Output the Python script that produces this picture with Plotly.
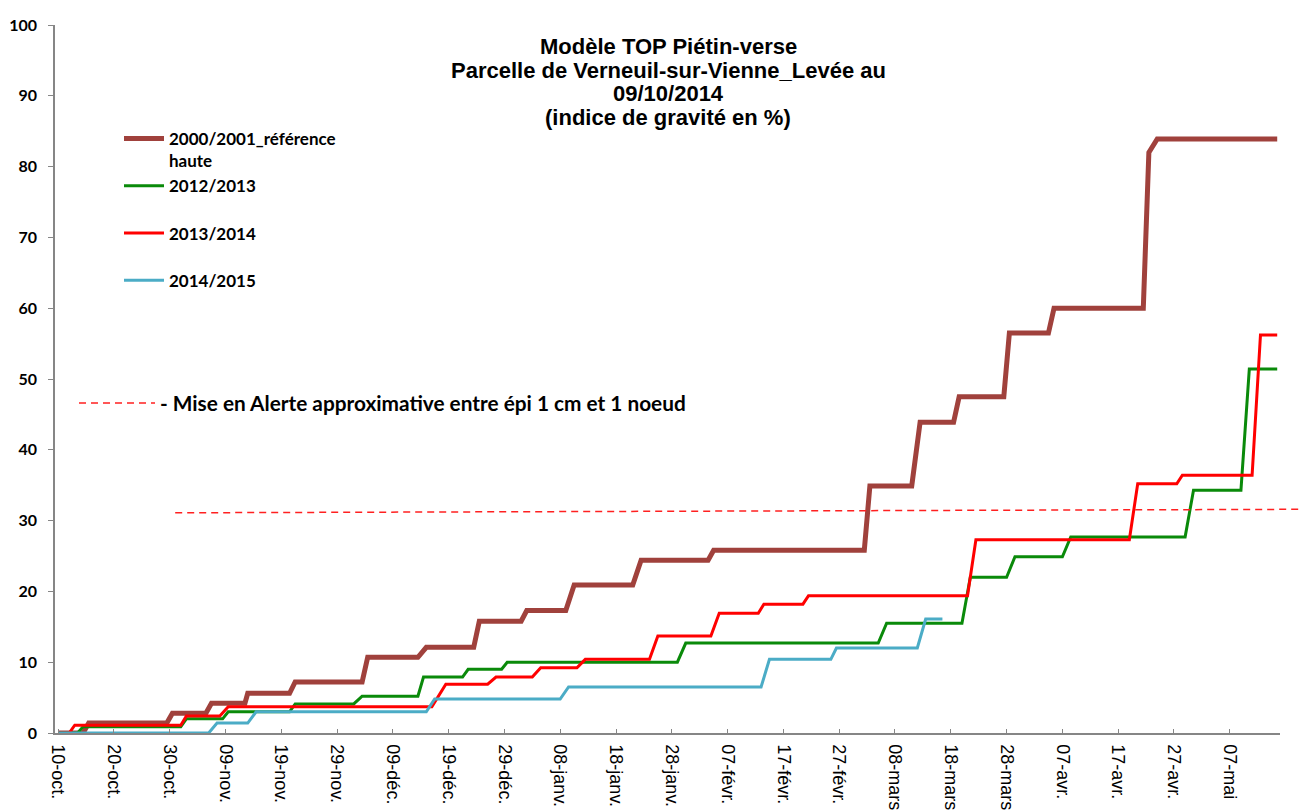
import plotly.graph_objects as go
import pandas as pd

# ---------------- data ----------------
# x axis uses a leap-year season (Feb has 29 days, so 27-févr. + 10 days = 08-mars)
tick_dates = ['2011-10-10', '2011-10-20', '2011-10-30', '2011-11-09', '2011-11-19',
              '2011-11-29', '2011-12-09', '2011-12-19', '2011-12-29', '2012-01-08',
              '2012-01-18', '2012-01-28', '2012-02-07', '2012-02-17', '2012-02-27',
              '2012-03-08', '2012-03-18', '2012-03-28', '2012-04-07', '2012-04-17',
              '2012-04-27', '2012-05-07']
tick_labels = ['10-oct.', '20-oct.', '30-oct.', '09-nov.', '19-nov.', '29-nov.',
               '09-déc.', '19-déc.', '29-déc.', '08-janv.', '18-janv.', '28-janv.',
               '07-févr.', '17-févr.', '27-févr.', '08-mars', '18-mars', '28-mars',
               '07-avr.', '17-avr.', '27-avr.', '07-mai']

ref_name = '2000/2001_référence<br>haute'
ref_dates = ['2011-10-10', '2011-10-14 12:00', '2011-10-15 12:00', '2011-10-29 12:00',
             '2011-10-30 12:00', '2011-11-05 12:00', '2011-11-06 12:00', '2011-11-12 12:00',
             '2011-11-13', '2011-11-20 12:00', '2011-11-21 12:00', '2011-12-03 12:00',
             '2011-12-04 12:00', '2011-12-13 12:00', '2011-12-15', '2011-12-23 12:00',
             '2011-12-24 12:00', '2012-01-01', '2012-01-02', '2012-01-09',
             '2012-01-10 12:00', '2012-01-21', '2012-01-22 12:00', '2012-02-03 12:00',
             '2012-02-04 12:00', '2012-03-02 12:00', '2012-03-03 12:00', '2012-03-11',
             '2012-03-12 12:00', '2012-03-18 12:00', '2012-03-19 12:00', '2012-03-27 12:00',
             '2012-03-28 12:00', '2012-04-04 12:00', '2012-04-05 12:00', '2012-04-21 12:00',
             '2012-04-22 12:00', '2012-04-24', '2012-05-15 12:00']
ref_values = [0, 0, 1.4, 1.4, 2.8, 2.8, 4.2, 4.2, 5.6, 5.6, 7.2, 7.2, 10.7, 10.7,
              12.1, 12.1, 15.8, 15.8, 17.3, 17.3, 20.9, 20.9, 24.4, 24.4, 25.8, 25.8,
              34.9, 34.9, 43.9, 43.9, 47.5, 47.5, 56.5, 56.5, 60.0, 60.0, 82.0, 83.9, 83.9]

s1213_dates = ['2011-10-10', '2011-10-13 12:00', '2011-10-14 12:00', '2011-11-01',
               '2011-11-02', '2011-11-08 12:00', '2011-11-09 12:00', '2011-11-20 12:00',
               '2011-11-21 12:00', '2011-12-02', '2011-12-03 12:00', '2011-12-13 12:00',
               '2011-12-14 12:00', '2011-12-21 12:00', '2011-12-22 12:00', '2011-12-28 12:00',
               '2011-12-29 12:00', '2012-01-29', '2012-01-30 12:00', '2012-03-05',
               '2012-03-06 12:00', '2012-03-20', '2012-03-21 12:00', '2012-03-28',
               '2012-03-29 12:00', '2012-04-07', '2012-04-08 12:00', '2012-04-29',
               '2012-04-30 12:00', '2012-05-09', '2012-05-10 12:00', '2012-05-15 12:00']
s1213_values = [0, 0, 0.9, 0.9, 2.0, 2.0, 3.0, 3.0, 4.1, 4.1, 5.2, 5.2, 7.9, 7.9,
                9.0, 9.0, 10.0, 10.0, 12.7, 12.7, 15.5, 15.5, 22.0, 22.0, 24.9, 24.9,
                27.7, 27.7, 34.3, 34.3, 51.4, 51.4]

s1314_dates = ['2011-10-10', '2011-10-12', '2011-10-13', '2011-11-01', '2011-11-02',
               '2011-11-08', '2011-11-09 12:00', '2011-12-16', '2011-12-18 12:00',
               '2011-12-26', '2011-12-27 12:00', '2012-01-03', '2012-01-04 12:00',
               '2012-01-11', '2012-01-12 12:00', '2012-01-24', '2012-01-25 12:00',
               '2012-02-04', '2012-02-05 12:00', '2012-02-12 12:00', '2012-02-13 12:00',
               '2012-02-20 12:00', '2012-02-21 12:00', '2012-03-21', '2012-03-22 12:00',
               '2012-04-19', '2012-04-20 12:00', '2012-04-27 12:00', '2012-04-28 12:00',
               '2012-05-11', '2012-05-12 12:00', '2012-05-15 12:00']
s1314_values = [0, 0, 1.1, 1.1, 2.4, 2.4, 3.7, 3.7, 6.9, 6.9, 7.9, 7.9, 9.2, 9.2,
                10.4, 10.4, 13.7, 13.7, 16.9, 16.9, 18.2, 18.2, 19.4, 19.4, 27.3, 27.3,
                35.2, 35.2, 36.4, 36.4, 56.2, 56.2]

s1415_dates = ['2011-10-10', '2011-11-06', '2011-11-07 12:00', '2011-11-13',
               '2011-11-14 12:00', '2011-12-15', '2011-12-16 12:00', '2012-01-08',
               '2012-01-09 12:00', '2012-02-13', '2012-02-14 12:00', '2012-02-25 12:00',
               '2012-02-26 12:00', '2012-03-12', '2012-03-13 12:00', '2012-03-16 12:00']
s1415_values = [0, 0, 1.4, 1.4, 3.0, 3.0, 4.8, 4.8, 6.5, 6.5, 10.4, 10.4, 12.0, 12.0,
                16.1, 16.1]

alert_name = '- Mise en Alerte approximative entre épi 1 cm et 1 noeud'
alert_start_date = '2011-10-31'
alert_values = [31.1, 31.6]   # left end, right end (line is slightly tilted)

title_lines = ['Modèle TOP Piétin-verse',
               'Parcelle de Verneuil-sur-Vienne_Levée au',
               '09/10/2014',
               '(indice de gravité en %)']

# ---------------- layout constants ----------------
PAGE_PAD = 8                 # default body margin of the html page
W, H = 1309 - PAGE_PAD, 810 - PAGE_PAD
ML, MR, MT, MB = 47, 29, 17, 77
PW, PH = W - ML - MR, H - MT - MB
x_range = [pd.Timestamp('2011-10-09 11:00'), pd.Timestamp('2012-05-16 00:00')]
AXIS_GREY = '#868686'


def paper_x(page_px):
    return (page_px - PAGE_PAD - ML) / PW


def paper_y(page_px):
    return 1 - (page_px - PAGE_PAD - MT) / PH


def to_dt(values):
    return pd.to_datetime(values, format='mixed')


fig = go.Figure()

series = [
    (ref_name, ref_dates, ref_values, '#A0413C', 5),
    ('2012/2013<br> ', s1213_dates, s1213_values, '#0A8A0A', 3),
    ('2013/2014<br> ', s1314_dates, s1314_values, '#FF0000', 3),
    ('2014/2015<br> ', s1415_dates, s1415_values, '#4BACC6', 3),
]
for name, xs, ys, color, width in series:
    fig.add_trace(go.Scatter(
        x=to_dt(xs), y=ys, mode='lines', name=name,
        line=dict(color=color, width=width),
        hoverinfo='x+y',
    ))

# alert threshold: dashed line running past the right end of the axis
span = (x_range[1] - x_range[0])
x0_paper = (pd.Timestamp(alert_start_date) - x_range[0]) / span
fig.add_shape(
    type='line', xref='paper', yref='y',
    x0=x0_paper, x1=paper_x(1309), y0=alert_values[0], y1=alert_values[1],
    line=dict(color='#FF2020', width=1.5, dash='7px,5px'),
    showlegend=True, legend='legend2', name=alert_name,
)

# title (Excel-style tight line spacing)
title_y_px = [47, 70.5, 94, 117.5]
for line, ypx in zip(title_lines, title_y_px):
    fig.add_annotation(
        text=line, xref='paper', yref='paper', x=paper_x(668),
        y=paper_y(ypx), xanchor='center', yanchor='middle',
        showarrow=False,
        font=dict(family='Liberation Sans', size=22, color='black', weight='bold'),
    )

fig.update_layout(
    width=W, height=H, template='none',
    margin=dict(l=ML, r=MR, t=MT, b=MB, autoexpand=False),
    paper_bgcolor='white', plot_bgcolor='white',
    showlegend=True,
    legend=dict(
        x=paper_x(119), y=paper_y(121),
        xanchor='left', yanchor='top', valign='top',
        bgcolor='rgba(0,0,0,0)', borderwidth=0, itemwidth=40,
        font=dict(family='Lato', size=17, color='black', weight='bold'),
        tracegroupgap=0,
    ),
    legend2=dict(
        x=paper_x(74), y=paper_y(383),
        xanchor='left', yanchor='top',
        bgcolor='rgba(0,0,0,0)', borderwidth=0, itemwidth=76,
        font=dict(family='Lato', size=20.8, color='black', weight='bold'),
    ),
    xaxis=dict(
        type='date', range=x_range, tickmode='array',
        tickvals=to_dt(tick_dates), ticktext=tick_labels,
        tickangle=90, ticks='inside', ticklen=4, tickcolor=AXIS_GREY, tickwidth=1,
        showline=True, linecolor=AXIS_GREY, linewidth=1.5,
        showgrid=False, zeroline=False, automargin=False,
        ticklabelstandoff=6,
        tickfont=dict(family='Liberation Sans', size=18, color='black'),
    ),
    yaxis=dict(
        range=[0, 100], tickmode='linear', tick0=0, dtick=10,
        ticks='outside', ticklen=5, tickcolor=AXIS_GREY, tickwidth=1,
        showline=True, linecolor=AXIS_GREY, linewidth=1.5,
        showgrid=False, zeroline=False, automargin=False,
        ticklabelstandoff=8,
        tickfont=dict(family='Lato', size=16, color='black', weight='bold'),
    ),
)

fig.write_html('out.html', config={'displayModeBar': False})
